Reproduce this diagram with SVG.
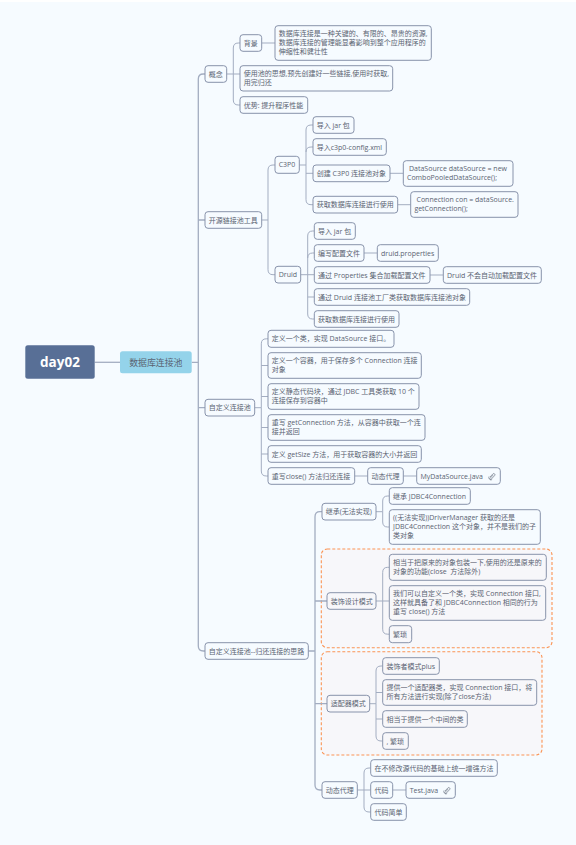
<svg xmlns="http://www.w3.org/2000/svg" width="576" height="845" viewBox="0 0 576 845">
<style>
.n{fill:#f6fbff;stroke:#8893ab;stroke-width:1}
.g{fill:#f7f7fa}
.t{font-family:"Open Sans","Noto Sans CJK SC",sans-serif;font-size:7px;fill:#5a6372}
.c{fill:none;stroke:#a3adc1;stroke-width:1}
.m{stroke-width:1.300}
.o{fill:#f7f7fa;stroke:#fb9454;stroke-width:1.100;stroke-dasharray:3 2}
</style>
<defs>
<path id="clip" d="M2.500 5.500L5.400 2.400A1.200 1.200 0 0 1 7.100 4.100L3.600 7.800A.7.7 0 0 1 2.600 6.800L5.800 3.400M1.500 5A2.400 2.400 0 0 0 4.600 8.200" fill="none" stroke="#6d7685" stroke-width=".7"/>
</defs>
<rect width="576" height="845" fill="#f6fbff"/>
<rect width="576" height="2" fill="#fff"/>
<g id="frames">
<rect class="o" x="321.300" y="549" width="230.700" height="98.700" rx="6"/>
<rect class="o" x="321.300" y="651.700" width="220.700" height="103.300" rx="6"/>
</g>
<g id="connectors">
<path class="c m" d="M94.700 362.300H120"/>
<path class="c m" d="M191.700 362.300H198.300M205 74H203.300Q198.300 74 198.300 79V646Q198.300 651 203.300 651H205M198.300 220H205M198.300 407.700H205"/>
<path class="c" d="M226.700 74H240M233.300 74V48Q233.300 43 238.300 43H240M233.300 74V100Q233.300 105 238.300 105H240M261.700 43H275"/>
<path class="c" d="M261.700 220H268M268 220V170Q268 165 273 165H275M268 220V269.700Q268 274.700 273 274.700H275"/>
<path class="c" d="M299.300 165H306M306 165V130Q306 125 311 125H313M306 152Q306 147 311 147H313M306 165V199.700Q306 204.700 311 204.700H313M306 173.300H313M390 173.300H403.300M397.700 204.700H410.700"/>
<path class="c" d="M300.700 274.700H314.300M307.700 274.700V236Q307.700 231 312.700 231H314.300M307.700 258Q307.700 253 312.700 253H314.300M307.700 274.700V314Q307.700 319 312.700 319H314.300M307.700 297H314.300M364 253H377.300M430 275H443.300"/>
<path class="c" d="M254.700 407.700H261.300M261.300 407.700V343.800Q261.300 338.800 266.300 338.800H268M261.300 407.700V471Q261.300 476 266.300 476H268M261.300 365.500H268M261.300 396.500H268M261.300 427.500H268M261.300 454H268M354.700 476H367.700M403.300 476H416.700"/>
<path class="c m" d="M308.300 651H315M315 651V516.700Q315 511.700 320 511.700H322M315 651V785Q315 790 320 790H322M315 601H327M315 703.700H327"/>
<path class="c" d="M376 511.700H382.700M382.700 511.700V501Q382.700 496 387.700 496H389.300M382.700 511.700V522Q382.700 527 387.700 527H389.300"/>
<path class="c" d="M376 601H389.300M382.700 601V572.300Q382.700 567.300 387.700 567.300H389.300M382.700 601V629.200Q382.700 634.200 387.700 634.200H389.300"/>
<path class="c" d="M369.700 703.700H376M376 703.700V671Q376 666 381 666H382.700M376 692.500H382.700M376 703.700V736Q376 741 381 741H382.700M376 719H382.700"/>
<path class="c" d="M357.300 790H370.700M364 790V773Q364 768 369 768H370.700M364 790V807Q364 812 369 812H370.700M392.700 790H406"/>
</g>
<g id="root"><rect x="25.300" y="345.300" width="69.400" height="33.400" rx="2.500" fill="#586f96"/><text x="60" y="367" text-anchor="middle" font-family="Open Sans,sans-serif" font-weight="700" font-size="13.500" fill="#fff">day02</text></g>
<g id="main"><rect x="120" y="351.300" width="71.700" height="22" rx="2.500" fill="#94d3ea"/><text class="t" x="155.800" y="365.500" text-anchor="middle" style="font-size:8.900px">数据库连接池</text></g>
<g id="n1"><rect class="n" x="205" y="65.700" width="21.700" height="16.600" rx="3"/><text class="t" x="208.700" y="76.500">概念</text></g>
<g id="n2"><rect class="n" x="240" y="34.700" width="21.700" height="16.600" rx="3"/><text class="t" x="243.700" y="45.500">背景</text></g>
<g id="n3"><rect class="n" x="275" y="25.700" width="156.300" height="34.600" rx="3"/><text class="t"><tspan x="278.700" y="36.200">数据库连接是一种关键的、有限的、昂贵的资源,</tspan><tspan x="278.700" y="45.200">数据库连接的管理能显著影响到整个应用程序的</tspan><tspan x="278.700" y="54.200">伸缩性和健壮性</tspan></text></g>
<g id="n4"><rect class="n" x="240" y="65.700" width="152.700" height="25.300" rx="3"/><text class="t"><tspan x="243.700" y="76.200">使用池的思想,预先创建好一些链接,使用时获取,</tspan><tspan x="243.700" y="85.200">用完归还</tspan></text></g>
<g id="n5"><rect class="n" x="240" y="96.700" width="67.700" height="16.600" rx="3"/><text class="t" x="243.700" y="107.500">优势: 提升程序性能</text></g>
<g id="n6"><rect class="n" x="205" y="211.700" width="56.700" height="16.600" rx="3"/><text class="t" x="208.700" y="222.500">开源链接池工具</text></g>
<g id="n7"><rect class="n" x="275" y="156.300" width="24.300" height="17" rx="3"/><text class="t" x="278.700" y="167.300">C3P0</text></g>
<g id="n8"><rect class="n" x="313" y="116.700" width="41" height="16.600" rx="3"/><text class="t" x="316.700" y="127.500">导入 jar 包</text></g>
<g id="n9"><rect class="n" x="313" y="138.700" width="73.300" height="16.600" rx="3"/><text class="t" x="316.700" y="149.500">导入c3p0-config.xml</text></g>
<g id="n10"><rect class="n" x="313" y="165" width="77" height="16.700" rx="3"/><text class="t" x="316.700" y="175.800">创建 C3P0 连接池对象</text></g>
<g id="n11"><rect class="n" x="403.300" y="160.700" width="109.700" height="25.600" rx="3"/><text class="t"><tspan x="409" y="170.800">DataSource dataSource = new</tspan><tspan x="407" y="179.800">ComboPooledDataSource();</tspan></text></g>
<g id="n12"><rect class="n" x="313" y="196.300" width="84.700" height="16.700" rx="3"/><text class="t" x="316.700" y="207.200">获取数据库连接进行使用</text></g>
<g id="n13"><rect class="n" x="410.700" y="191.700" width="107.300" height="25.600" rx="3"/><text class="t"><tspan x="416.500" y="202">Connection con = dataSource.</tspan><tspan x="414.400" y="211">getConnection();</tspan></text></g>
<g id="n14"><rect class="n" x="275" y="266.300" width="25.700" height="16.700" rx="3"/><text class="t" x="278.700" y="277.200">Druid</text></g>
<g id="n15"><rect class="n" x="314.300" y="222.700" width="41" height="16.600" rx="3"/><text class="t" x="318" y="233.500">导入 jar 包</text></g>
<g id="n16"><rect class="n" x="314.300" y="244.700" width="49.700" height="16.600" rx="3"/><text class="t" x="318" y="255.500">编写配置文件</text></g>
<g id="n17"><rect class="n" x="377.300" y="244.700" width="61" height="16.600" rx="3"/><text class="t" x="381" y="255.500">druid.properties</text></g>
<g id="n18"><rect class="n" x="314.300" y="266.700" width="115.700" height="16.600" rx="3"/><text class="t" x="318" y="277.500">通过 Properties 集合加载配置文件</text></g>
<g id="n19"><rect class="n" x="443.300" y="266.700" width="98" height="16.600" rx="3"/><text class="t" x="447" y="277.500">Druid 不会自动加载配置文件</text></g>
<g id="n20"><rect class="n" x="314.300" y="288.700" width="155.400" height="16.600" rx="3"/><text class="t" x="318" y="299.500">通过 Druid 连接池工厂类获取数据库连接池对象</text></g>
<g id="n21"><rect class="n" x="314.300" y="310.700" width="84.700" height="16.600" rx="3"/><text class="t" x="318" y="321.500">获取数据库连接进行使用</text></g>
<g id="n22"><rect class="n" x="205" y="399.300" width="49.700" height="16.700" rx="3"/><text class="t" x="208.700" y="410.200">自定义连接池</text></g>
<g id="n23"><rect class="n" x="268" y="330.300" width="126" height="17" rx="3"/><text class="t" x="271.700" y="341.300">定义一个类，实现 DataSource 接口。</text></g>
<g id="n24"><rect class="n" x="268" y="352.700" width="153.300" height="25.600" rx="3"/><text class="t"><tspan x="271.700" y="363">定义一个容器，用于保存多个 Connection 连接</tspan><tspan x="271.700" y="372">对象</tspan></text></g>
<g id="n25"><rect class="n" x="268" y="383.700" width="151" height="25.600" rx="3"/><text class="t"><tspan x="271.700" y="394">定义静态代码块，通过 JDBC 工具类获取 10 个</tspan><tspan x="271.700" y="403">连接保存到容器中</tspan></text></g>
<g id="n26"><rect class="n" x="268" y="414.700" width="157" height="25.600" rx="3"/><text class="t"><tspan x="271.700" y="425">重写 getConnection 方法，从容器中获取一个连</tspan><tspan x="271.700" y="434">接并返回</tspan></text></g>
<g id="n27"><rect class="n" x="268" y="445.700" width="153.300" height="16.600" rx="3"/><text class="t" x="271.700" y="456.500">定义 getSize 方法，用于获取容器的大小并返回</text></g>
<g id="n28"><rect class="n" x="268" y="467.700" width="86.700" height="16.600" rx="3"/><text class="t" x="271.700" y="478.500">重写close() 方法归还连接</text></g>
<g id="n29"><rect class="n" x="367.700" y="467.700" width="35.600" height="16.600" rx="3"/><text class="t" x="371.400" y="478.500">动态代理</text></g>
<g id="n30"><rect class="n" x="416.700" y="467.700" width="83.600" height="16.600" rx="3"/><text class="t" x="420.400" y="478.500">MyDataSource.java</text><use href="#clip" x="487.500" y="471.500"/></g>
<g id="n31"><rect class="n" x="205" y="642.700" width="103.300" height="16.600" rx="3"/><text class="t" x="208.700" y="653.500">自定义连接池--归还连接的思路</text></g>
<g id="n32"><rect class="n" x="322" y="503.300" width="54" height="16.700" rx="3"/><text class="t" x="325.700" y="514.200">继承(无法实现)</text></g>
<g id="n33"><rect class="n" x="389.300" y="487.700" width="81" height="16.600" rx="3"/><text class="t" x="393" y="498.500">继承 JDBC4Connection</text></g>
<g id="n34"><rect class="n" x="389.300" y="509.700" width="151" height="34.600" rx="3"/><text class="t"><tspan x="393" y="520.200">((无法实现))DriverManager 获取的还是</tspan><tspan x="393" y="529.200">JDBC4Connection 这个对象，并不是我们的子</tspan><tspan x="393" y="538.200">类对象</tspan></text></g>
<g id="n35"><rect class="n g" x="327" y="592.700" width="49" height="16.600" rx="3"/><text class="t" x="330.700" y="603.500">装饰设计模式</text></g>
<g id="n36"><rect class="n g" x="389.300" y="554.300" width="157" height="26" rx="3"/><text class="t"><tspan x="393" y="564.800">相当于把原来的对象包装一下,使用的还是原来的</tspan><tspan x="393" y="573.800" xml:space="preserve">对象的功能(close  方法除外)</tspan></text></g>
<g id="n37"><rect class="n g" x="389.300" y="585.700" width="156.400" height="34.600" rx="3"/><text class="t"><tspan x="393" y="596.200">我们可以自定义一个类，实现 Connection 接口,</tspan><tspan x="393" y="605.200">这样就具备了和 JDBC4Connection 相同的行为</tspan><tspan x="393" y="614.200">重写 close() 方法</tspan></text></g>
<g id="n38"><rect class="n g" x="389.300" y="625.700" width="22.400" height="17" rx="3"/><text class="t" x="393" y="636.700">繁琐</text></g>
<g id="n39"><rect class="n g" x="327" y="695.300" width="42.700" height="16.700" rx="3"/><text class="t" x="330.700" y="706.200">适配器模式</text></g>
<g id="n40"><rect class="n g" x="382.700" y="657.700" width="56.600" height="16.600" rx="3"/><text class="t" x="386.400" y="668.500">装饰者模式plus</text></g>
<g id="n41"><rect class="n g" x="382.700" y="679.700" width="154" height="25.600" rx="3"/><text class="t"><tspan x="386.400" y="690">提供一个适配器类，实现 Connection 接口，将</tspan><tspan x="386.400" y="699">所有方法进行实现(除了close方法)</tspan></text></g>
<g id="n42"><rect class="n g" x="382.700" y="710.700" width="84.600" height="16.600" rx="3"/><text class="t" x="386.400" y="721.500">相当于提供一个中间的类</text></g>
<g id="n43"><rect class="n g" x="382.700" y="732.700" width="25.600" height="16.600" rx="3"/><text class="t" x="386.400" y="743.500">, 繁琐</text></g>
<g id="n44"><rect class="n" x="322" y="781.700" width="35.300" height="16.600" rx="3"/><text class="t" x="325.700" y="792.500">动态代理</text></g>
<g id="n45"><rect class="n" x="370.700" y="759.700" width="126.600" height="16.600" rx="3"/><text class="t" x="374.400" y="770.500">在不修改源代码的基础上统一增强方法</text></g>
<g id="n46"><rect class="n" x="370.700" y="781.700" width="22" height="16.600" rx="3"/><text class="t" x="374.400" y="792.500">代码</text></g>
<g id="n47"><rect class="n" x="406" y="781.700" width="49.300" height="16.600" rx="3"/><text class="t" x="409.700" y="792.500">Test.java</text><use href="#clip" x="442.500" y="785.500"/></g>
<g id="n48"><rect class="n" x="370.700" y="803.700" width="35.600" height="16.600" rx="3"/><text class="t" x="374.400" y="814.500">代码简单</text></g>
</svg>
